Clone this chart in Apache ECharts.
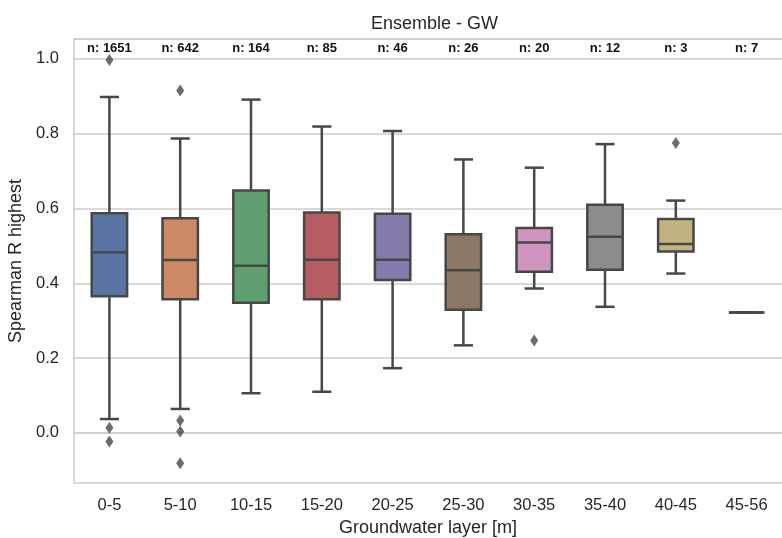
<!DOCTYPE html>
<html>
<head>
<meta charset="utf-8">
<script src="https://cdn.jsdelivr.net/npm/echarts@6/dist/echarts.min.js"></script>
<style>html,body{margin:0;padding:0;background:#fff}#c{width:782px;height:538px}</style>
</head>
<body>
<div id="c"></div>
<script>
var categories = ['0-5','5-10','10-15','15-20','20-25','25-30','30-35','35-40','40-45','45-56'];
var counts = [1651, 642, 164, 85, 46, 26, 20, 12, 3, 7];
var whiskerLow  = [0.037, 0.064, 0.106, 0.110, 0.173, 0.234, 0.386, 0.337, 0.426, 0.322];
var q1          = [0.365, 0.357, 0.348, 0.357, 0.409, 0.329, 0.431, 0.436, 0.485, 0.322];
var median      = [0.483, 0.462, 0.447, 0.463, 0.463, 0.435, 0.509, 0.524, 0.505, 0.322];
var q3          = [0.587, 0.574, 0.648, 0.589, 0.586, 0.531, 0.548, 0.610, 0.572, 0.322];
var whiskerHigh = [0.898, 0.787, 0.891, 0.819, 0.807, 0.731, 0.709, 0.772, 0.621, 0.322];
var outliers = [[0, 0.997], [0, 0.014], [0, -0.023], [1, 0.915], [1, 0.033], [1, 0.004], [1, -0.081], [6, 0.247], [8, 0.775]];
var boxColors = ['#5975a4','#cc8963','#5f9e6e','#b55d60','#857aab','#8d7866','#d095bf','#8c8c8c','#c1b37f','#71aec0'];
var yTicks = [0.0, 0.2, 0.4, 0.6, 0.8, 1.0];

var FONT = '"Liberation Sans", Arial, sans-serif';
var TXT = '#262626';
var LINE = '#474747';
var GRIDC = '#cccccc';

var boxData = categories.map(function (c, i) {
  return [i, whiskerLow[i], q1[i], median[i], q3[i], whiskerHigh[i]];
});

var chart = echarts.init(document.getElementById('c'), null, {renderer: 'canvas'});
chart.setOption({
  animation: false,
  backgroundColor: '#ffffff',
  title: {
    text: 'Ensemble - GW',
    left: 366, top: 10,
    textStyle: {fontFamily: FONT, fontSize: 18, fontWeight: 'normal', color: TXT}
  },
  grid: {left: 74, right: 0, top: 39, bottom: 55, containLabel: false, outerBoundsMode: 'none'},
  xAxis: [{
    type: 'category',
    data: categories,
    position: 'bottom',
    name: 'Groundwater layer [m]',
    nameLocation: 'middle',
    nameGap: 36,
    nameTextStyle: {fontFamily: FONT, fontSize: 18, color: TXT},
    axisLine: {show: true, lineStyle: {color: GRIDC, width: 1.5}},
    axisTick: {show: false},
    axisLabel: {fontFamily: FONT, fontSize: 16.5, color: TXT, margin: 14},
    splitLine: {show: false}
  }, {
    type: 'category',
    data: counts.map(function (n) { return 'n: ' + n; }),
    position: 'top',
    axisLine: {show: true, lineStyle: {color: GRIDC, width: 1.5}},
    axisTick: {show: false},
    axisLabel: {inside: true, margin: 3, fontFamily: FONT, fontSize: 13, fontWeight: 'bold', color: '#111111'},
    splitLine: {show: false}
  }],
  yAxis: {
    type: 'value',
    min: -0.134, max: 1.053,
    splitNumber: 6,
    name: 'Spearman R highest',
    nameLocation: 'middle',
    nameGap: 42,
    nameTextStyle: {fontFamily: FONT, fontSize: 18, color: TXT},
    axisLine: {show: true, lineStyle: {color: GRIDC, width: 1.5}},
    axisTick: {show: false},
    axisLabel: {
      fontFamily: FONT, fontSize: 16.5, color: TXT, margin: 15,
      showMinLabel: false, showMaxLabel: false,
      formatter: function (v) {
        for (var k = 0; k < yTicks.length; k++) {
          if (Math.abs(v - yTicks[k]) < 1e-6) return yTicks[k].toFixed(1);
        }
        return '';
      }
    },
    splitLine: {show: true, lineStyle: {color: GRIDC, width: 1.5}}
  },
  series: [{
    type: 'custom',
    xAxisIndex: 0,
    data: boxData,
    encode: {x: 0, y: [1, 2, 3, 4, 5]},
    renderItem: function (params, api) {
      var i = api.value(0);
      var x = api.coord([i, 0])[0];
      var bw = api.size([1, 0])[0] * 0.5;
      var yLo = api.coord([i, api.value(1)])[1];
      var yQ1 = api.coord([i, api.value(2)])[1];
      var yMd = api.coord([i, api.value(3)])[1];
      var yQ3 = api.coord([i, api.value(4)])[1];
      var yHi = api.coord([i, api.value(5)])[1];
      var st = {stroke: LINE, lineWidth: 2.5, fill: null};
      var cw = bw * 0.27;
      return {
        type: 'group',
        children: [
          {type: 'line', shape: {x1: x, y1: yQ1, x2: x, y2: yLo}, style: st},
          {type: 'line', shape: {x1: x, y1: yQ3, x2: x, y2: yHi}, style: st},
          {type: 'line', shape: {x1: x - cw, y1: yLo, x2: x + cw, y2: yLo}, style: st},
          {type: 'line', shape: {x1: x - cw, y1: yHi, x2: x + cw, y2: yHi}, style: st},
          {type: 'rect', shape: {x: x - bw / 2, y: yQ3, width: bw, height: yQ1 - yQ3},
           style: {fill: boxColors[i], stroke: LINE, lineWidth: 2.5}},
          {type: 'line', shape: {x1: x - bw / 2, y1: yMd, x2: x + bw / 2, y2: yMd}, style: st}
        ]
      };
    }
  }, {
    type: 'scatter',
    xAxisIndex: 0,
    data: outliers,
    symbol: 'diamond',
    symbolSize: [8, 12],
    itemStyle: {color: LINE},
    z: 3
  }]
});
</script>
</body>
</html>
